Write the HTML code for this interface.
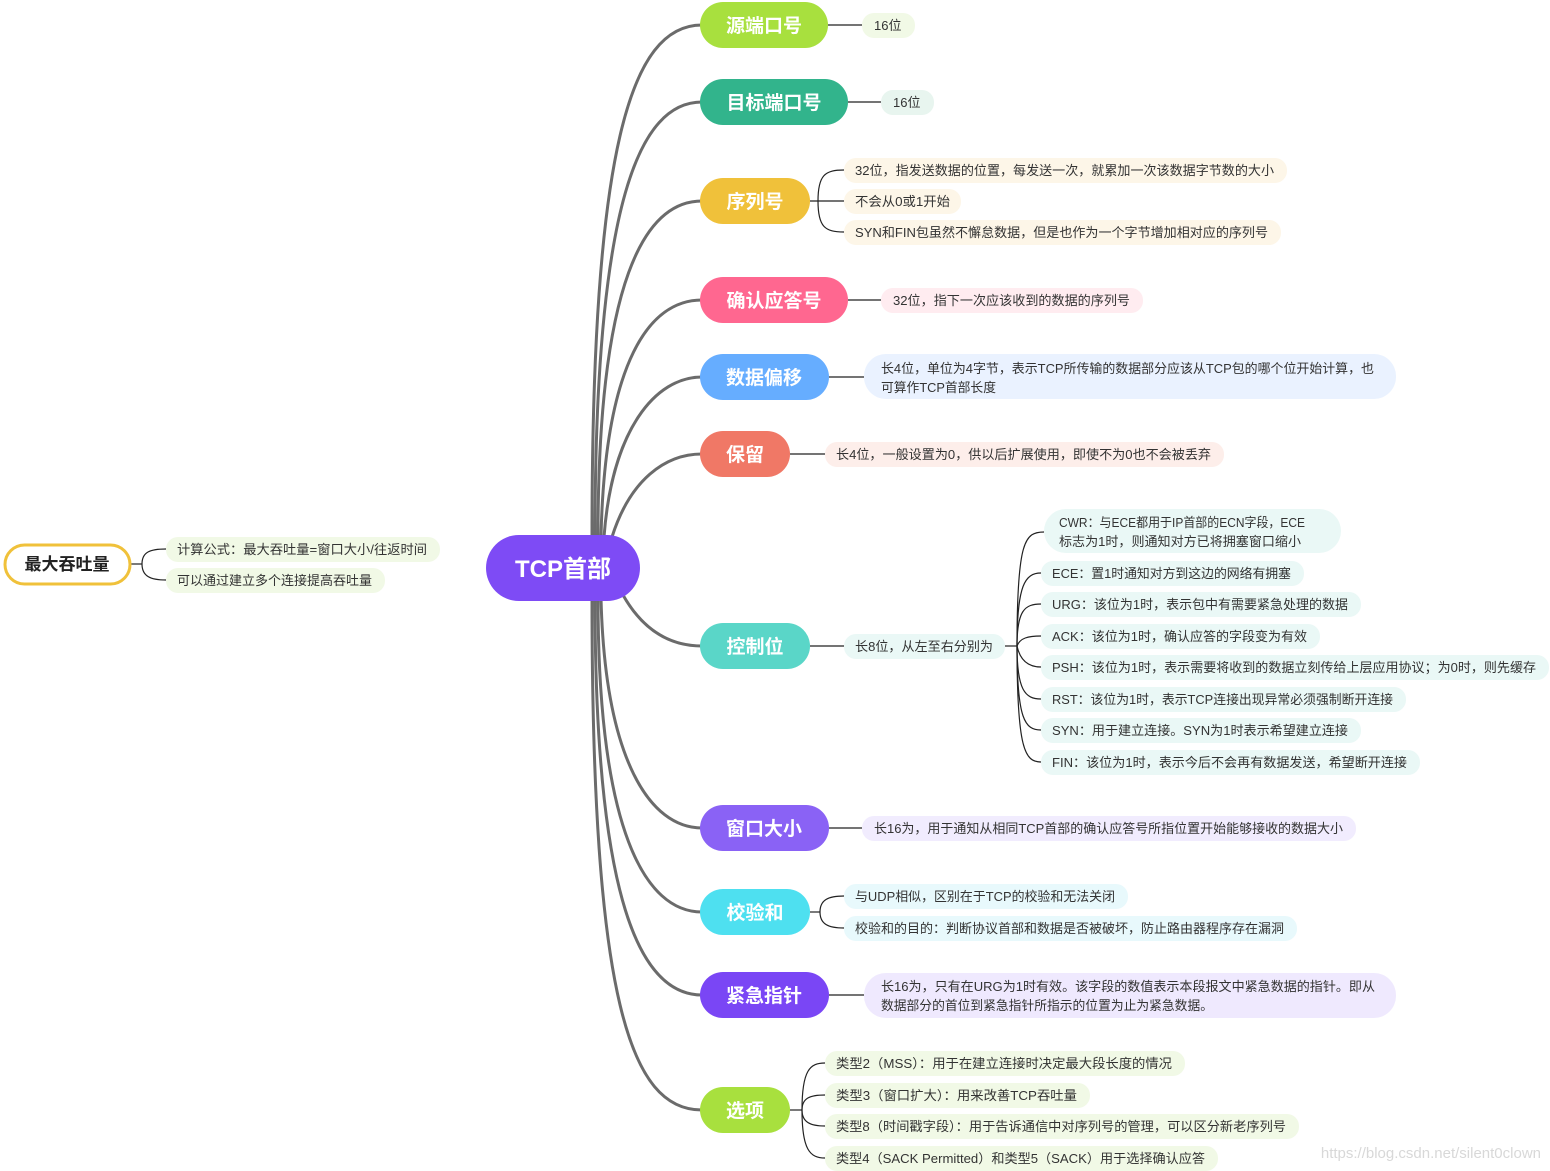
<!DOCTYPE html>
<html><head><meta charset="utf-8"><style>
html,body{margin:0;padding:0;background:#fff;}
svg{display:block;}
.n{font-family:"Liberation Sans","Noto Sans CJK SC",sans-serif;font-weight:bold;font-size:19px;fill:#fff;}
.l{font-family:"Liberation Sans","Noto Sans CJK SC",sans-serif;font-size:13px;fill:#333;}
</style></head><body>
<svg width="1550" height="1171" viewBox="0 0 1550 1171" xmlns="http://www.w3.org/2000/svg">
<g fill="none" stroke="#6b6b6b" stroke-width="3">
<path d="M592,537 C592,150 630,25 702,25"/>
<path d="M595,537 C595,200 640,102 702,102"/>
<path d="M598,537 C598,280 645,201 702,201"/>
<path d="M601,537 C605,360 650,300 702,300"/>
<path d="M604,537 C612,430 655,377 702,377"/>
<path d="M612,537 C630,480 665,454 702,454"/>
<path d="M623,595 C640,625 665,646 702,646"/>
<path d="M601,598 C605,760 650,828 702,828"/>
<path d="M598,598 C598,830 645,912 702,912"/>
<path d="M595,598 C595,900 640,995 702,995"/>
<path d="M592,598 C592,1000 630,1110 702,1110"/>
</g>
<g fill="none" stroke="#222" stroke-width="1.2">
<path d="M828,25 H862"/><path d="M848,102 H881"/>
<path d="M810,201 H844"/><path d="M818,201 C818,175 825,170 844,170"/><path d="M818,201 C818,227 825,232 844,232"/>
<path d="M848,300 H881"/><path d="M829,377 H864"/><path d="M790,454 H825"/>
<path d="M810,646 H844"/>
<path d="M1005,646 H1017"/>
<path d="M1017,646 C1017,540 1025,532 1044,532"/>
<path d="M1017,646 C1017,585 1025,573 1041,573"/>
<path d="M1017,646 C1017,610 1025,604 1041,604"/>
<path d="M1017,646 C1020,638 1028,636 1041,636"/>
<path d="M1017,646 C1020,660 1028,667 1041,667"/>
<path d="M1017,646 C1017,690 1025,699 1041,699"/>
<path d="M1017,646 C1017,720 1025,730 1041,730"/>
<path d="M1017,646 C1017,750 1025,762 1041,762"/>
<path d="M829,828 H862"/>
<path d="M810,912 H820"/><path d="M820,912 C820,900 828,896 844,896"/><path d="M820,912 C820,924 828,928 844,928"/>
<path d="M829,995 H864"/>
<path d="M790,1110 H802"/>
<path d="M802,1110 C802,1070 810,1063 825,1063"/>
<path d="M802,1110 C802,1098 810,1095 825,1095"/>
<path d="M802,1110 C802,1122 810,1126 825,1126"/>
<path d="M802,1110 C802,1150 810,1158 825,1158"/>
<path d="M131,564 H142"/><path d="M142,564 C142,552 150,549 166,549"/><path d="M142,564 C142,576 150,580 166,580"/>
</g>
<!-- root -->
<rect x="486" y="535" width="154" height="66" rx="33" fill="#7e4bf5"/>
<text x="563" y="577" text-anchor="middle" class="n" style="font-size:24px">TCP首部</text>
<!-- main nodes -->
<g>
<rect x="700" y="2" width="128" height="46" rx="23" fill="#a8e03e"/><text x="764" y="32" text-anchor="middle" class="n">源端口号</text>
<rect x="700" y="79" width="148" height="46" rx="23" fill="#32b48c"/><text x="774" y="109" text-anchor="middle" class="n">目标端口号</text>
<rect x="700" y="178" width="110" height="46" rx="23" fill="#f0c13a"/><text x="755" y="208" text-anchor="middle" class="n">序列号</text>
<rect x="700" y="277" width="148" height="46" rx="23" fill="#ff6790"/><text x="774" y="307" text-anchor="middle" class="n">确认应答号</text>
<rect x="700" y="354" width="129" height="46" rx="23" fill="#66adff"/><text x="764" y="384" text-anchor="middle" class="n">数据偏移</text>
<rect x="700" y="431" width="90" height="46" rx="23" fill="#f07866"/><text x="745" y="461" text-anchor="middle" class="n">保留</text>
<rect x="700" y="623" width="110" height="46" rx="23" fill="#5ad6c8"/><text x="755" y="653" text-anchor="middle" class="n">控制位</text>
<rect x="700" y="805" width="129" height="46" rx="23" fill="#8a62f5"/><text x="764" y="835" text-anchor="middle" class="n">窗口大小</text>
<rect x="700" y="889" width="110" height="46" rx="23" fill="#4ee0f0"/><text x="755" y="919" text-anchor="middle" class="n">校验和</text>
<rect x="700" y="972" width="129" height="46" rx="23" fill="#7a46f5"/><text x="764" y="1002" text-anchor="middle" class="n">紧急指针</text>
<rect x="700" y="1087" width="90" height="46" rx="23" fill="#a8e03e"/><text x="745" y="1117" text-anchor="middle" class="n">选项</text>
<rect x="5" y="545" width="125" height="39" rx="19.5" fill="#fff" stroke="#f0c13a" stroke-width="3"/><text x="67" y="570" text-anchor="middle" class="n" style="fill:#222;font-size:17px">最大吞吐量</text>
</g>
<!-- leaves -->
<g class="l">
<rect x="862" y="13" width="53" height="25" rx="12" fill="#f1f9e6"/><text x="874" y="30">16位</text>
<rect x="881" y="90" width="53" height="25" rx="12" fill="#e8f5ef"/><text x="893" y="107">16位</text>
<rect x="844" y="158" width="443" height="25" rx="12" fill="#fdf6e8"/><text x="855" y="175" textLength="419" lengthAdjust="spacingAndGlyphs">32位，指发送数据的位置，每发送一次，就累加一次该数据字节数的大小</text>
<rect x="844" y="189" width="117" height="25" rx="12" fill="#fdf6e8"/><text x="855" y="206" textLength="95" lengthAdjust="spacingAndGlyphs">不会从0或1开始</text>
<rect x="844" y="220" width="437" height="25" rx="12" fill="#fdf6e8"/><text x="855" y="237" textLength="413" lengthAdjust="spacingAndGlyphs">SYN和FIN包虽然不懈怠数据，但是也作为一个字节增加相对应的序列号</text>
<rect x="881" y="288" width="262" height="25" rx="12" fill="#ffecf0"/><text x="893" y="305" textLength="237" lengthAdjust="spacingAndGlyphs">32位，指下一次应该收到的数据的序列号</text>
<rect x="864" y="354" width="532" height="45" rx="22" fill="#eaf2ff"/><text x="881" y="373" textLength="493" lengthAdjust="spacingAndGlyphs">长4位，单位为4字节，表示TCP所传输的数据部分应该从TCP包的哪个位开始计算，也</text><text x="881" y="392" textLength="115" lengthAdjust="spacingAndGlyphs">可算作TCP首部长度</text>
<rect x="825" y="442" width="399" height="25" rx="12" fill="#fdeeea"/><text x="836" y="459" textLength="375" lengthAdjust="spacingAndGlyphs">长4位，一般设置为0，供以后扩展使用，即使不为0也不会被丢弃</text>
<rect x="844" y="634" width="161" height="25" rx="12" fill="#eaf8f6"/><text x="855" y="651" textLength="138" lengthAdjust="spacingAndGlyphs">长8位，从左至右分别为</text>
<rect x="1044" y="509" width="297" height="44" rx="22" fill="#eaf8f6"/><text x="1059" y="527" textLength="246" lengthAdjust="spacingAndGlyphs">CWR：与ECE都用于IP首部的ECN字段，ECE</text><text x="1059" y="546" textLength="242" lengthAdjust="spacingAndGlyphs">标志为1时，则通知对方已将拥塞窗口缩小</text>
<rect x="1041" y="561" width="263" height="25" rx="12" fill="#eaf8f6"/><text x="1052" y="578" textLength="239" lengthAdjust="spacingAndGlyphs">ECE：置1时通知对方到这边的网络有拥塞</text>
<rect x="1041" y="592" width="320" height="25" rx="12" fill="#eaf8f6"/><text x="1052" y="609" textLength="296" lengthAdjust="spacingAndGlyphs">URG：该位为1时，表示包中有需要紧急处理的数据</text>
<rect x="1041" y="624" width="279" height="25" rx="12" fill="#eaf8f6"/><text x="1052" y="641" textLength="255" lengthAdjust="spacingAndGlyphs">ACK：该位为1时，确认应答的字段变为有效</text>
<rect x="1041" y="655" width="508" height="25" rx="12" fill="#eaf8f6"/><text x="1052" y="672" textLength="484" lengthAdjust="spacingAndGlyphs">PSH：该位为1时，表示需要将收到的数据立刻传给上层应用协议；为0时，则先缓存</text>
<rect x="1041" y="687" width="365" height="25" rx="12" fill="#eaf8f6"/><text x="1052" y="704" textLength="341" lengthAdjust="spacingAndGlyphs">RST：该位为1时，表示TCP连接出现异常必须强制断开连接</text>
<rect x="1041" y="718" width="320" height="25" rx="12" fill="#eaf8f6"/><text x="1052" y="735" textLength="296" lengthAdjust="spacingAndGlyphs">SYN：用于建立连接。SYN为1时表示希望建立连接</text>
<rect x="1041" y="750" width="379" height="25" rx="12" fill="#eaf8f6"/><text x="1052" y="767" textLength="355" lengthAdjust="spacingAndGlyphs">FIN：该位为1时，表示今后不会再有数据发送，希望断开连接</text>
<rect x="862" y="816" width="494" height="25" rx="12" fill="#f1ecfe"/><text x="874" y="833" textLength="469" lengthAdjust="spacingAndGlyphs">长16为，用于通知从相同TCP首部的确认应答号所指位置开始能够接收的数据大小</text>
<rect x="844" y="884" width="284" height="25" rx="12" fill="#e8f9fc"/><text x="855" y="901" textLength="260" lengthAdjust="spacingAndGlyphs">与UDP相似，区别在于TCP的校验和无法关闭</text>
<rect x="844" y="916" width="453" height="25" rx="12" fill="#e8f9fc"/><text x="855" y="933" textLength="429" lengthAdjust="spacingAndGlyphs">校验和的目的：判断协议首部和数据是否被破坏，防止路由器程序存在漏洞</text>
<rect x="864" y="973" width="532" height="45" rx="22" fill="#efe9fe"/><text x="881" y="991" textLength="494" lengthAdjust="spacingAndGlyphs">长16为，只有在URG为1时有效。该字段的数值表示本段报文中紧急数据的指针。即从</text><text x="881" y="1010" textLength="332" lengthAdjust="spacingAndGlyphs">数据部分的首位到紧急指针所指示的位置为止为紧急数据。</text>
<rect x="825" y="1051" width="360" height="25" rx="12" fill="#f1f9e6"/><text x="836" y="1068" textLength="336" lengthAdjust="spacingAndGlyphs">类型2（MSS）：用于在建立连接时决定最大段长度的情况</text>
<rect x="825" y="1083" width="265" height="25" rx="12" fill="#f1f9e6"/><text x="836" y="1100" textLength="241" lengthAdjust="spacingAndGlyphs">类型3（窗口扩大）：用来改善TCP吞吐量</text>
<rect x="825" y="1114" width="474" height="25" rx="12" fill="#f1f9e6"/><text x="836" y="1131" textLength="450" lengthAdjust="spacingAndGlyphs">类型8（时间戳字段）：用于告诉通信中对序列号的管理，可以区分新老序列号</text>
<rect x="825" y="1146" width="393" height="25" rx="12" fill="#f1f9e6"/><text x="836" y="1163" textLength="369" lengthAdjust="spacingAndGlyphs">类型4（SACK Permitted）和类型5（SACK）用于选择确认应答</text>
<rect x="166" y="537" width="274" height="25" rx="12" fill="#f1f9e6"/><text x="177" y="554" textLength="250" lengthAdjust="spacingAndGlyphs">计算公式：最大吞吐量=窗口大小/往返时间</text>
<rect x="166" y="568" width="219" height="25" rx="12" fill="#f1f9e6"/><text x="177" y="585" textLength="195" lengthAdjust="spacingAndGlyphs">可以通过建立多个连接提高吞吐量</text>
</g>
<text x="1541" y="1158" text-anchor="end" style="font-family:'Liberation Sans',sans-serif;font-size:15px;fill:#d8d8d8">https://blog.csdn.net/silent0clown</text>
</svg>
</body></html>
